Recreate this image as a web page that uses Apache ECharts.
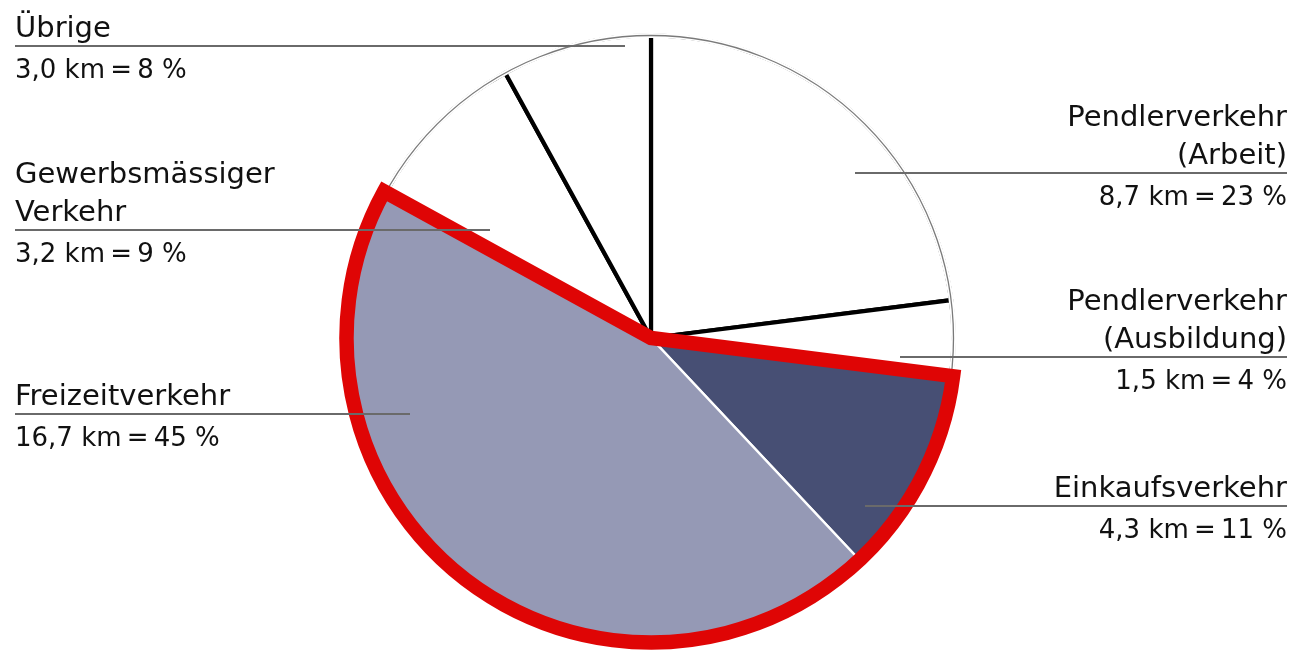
<!DOCTYPE html>
<html>
<head>
<meta charset="utf-8">
<script src="https://cdn.jsdelivr.net/npm/echarts@6/dist/echarts.min.js"></script>
<style>
html,body{margin:0;padding:0;background:#ffffff;}
#chart{width:1297px;height:653px;}
</style>
</head>
<body>
<div id="chart"></div>
<script>
// ---- data ----
const categories = ['Pendlerverkehr\n(Arbeit)', 'Pendlerverkehr\n(Ausbildung)', 'Einkaufsverkehr', 'Freizeitverkehr', 'Gewerbsmässiger\nVerkehr', 'Übrige'];
const distanceKm = [8.7, 1.5, 4.3, 16.7, 3.2, 3.0];
const sharePercent = [23, 4, 11, 45, 9, 8];
const highlighted = [false, false, true, true, false, false];

// ---- styles ----
const sliceColors = ['#ffffff', '#ffffff', '#474f74', '#9599b5', '#ffffff', '#ffffff'];
const RED = '#df0505';
const TEXT = '#111111';
const FONT = 'DejaVu Sans';

// ---- layout (label placement) ----
const LAYOUT = {
  center: [651, 338],
  radius: 302.5,
  edge: 15,
  lineY: [173, 357, 506, 414, 230, 46],
  lineStartX: [855, 900, 865, 410, 490, 625]
};

const total = sharePercent.reduce((a, b) => a + b, 0);
let acc = 0;
const sides = sharePercent.map(v => {
  const mid = (acc + v / 2) / total;
  acc += v;
  return mid < 0.5 ? 'right' : 'left';
});

// contiguous highlighted group
let before = 0, group = 0, after = 0, seen = false;
sharePercent.forEach((v, i) => {
  if (highlighted[i]) { group += v; seen = true; }
  else if (!seen) before += v;
  else after += v;
});

const fmtKm = v => v.toFixed(1).replace('.', ',');

const chart = echarts.init(document.getElementById('chart'), null, {renderer: 'canvas'});

const R = LAYOUT.radius;
const common = {
  type: 'pie',
  center: LAYOUT.center,
  startAngle: 90,
  clockwise: true,
  silent: true,
  avoidLabelOverlap: false,
  emphasis: {disabled: true},
  label: {show: false},
  labelLine: {show: false}
};

const option = {
  animation: false,
  backgroundColor: '#ffffff',
  series: [
    // base slices
    Object.assign({}, common, {
      z: 2,
      radius: [0, R],
      data: sharePercent.map((v, i) => ({
        value: v,
        name: categories[i],
        itemStyle: highlighted[i]
          ? {color: sliceColors[i], borderColor: '#ffffff', borderWidth: 2.5}
          : {color: sliceColors[i], borderColor: '#000000', borderWidth: 4.2}
      }))
    }),
    // white ring hiding the black outer arcs
    Object.assign({}, common, {
      z: 3,
      radius: [R - 2.4, R + 2.6],
      data: [{value: 1, itemStyle: {color: '#ffffff', borderWidth: 0}}]
    }),
    // thin grey outer circle
    Object.assign({}, common, {
      z: 4,
      radius: [0, R],
      data: [{value: 1, itemStyle: {color: 'rgba(0,0,0,0)', borderColor: '#7a7a7a', borderWidth: 1.3}}]
    }),
    // red outline around highlighted group
    Object.assign({}, common, {
      z: 5,
      radius: [0, R + 2],
      data: [
        {value: before, itemStyle: {color: 'rgba(0,0,0,0)', borderWidth: 0}},
        {value: group, itemStyle: {color: 'rgba(0,0,0,0)', borderColor: RED, borderWidth: 14.5, borderJoin: 'miter'}},
        {value: after, itemStyle: {color: 'rgba(0,0,0,0)', borderWidth: 0}}
      ]
    }),
    // label carrier (drawn on top)
    Object.assign({}, common, {
      z: 10,
      radius: [0, R],
      data: sharePercent.map((v, i) => ({value: v, name: categories[i], itemStyle: {color: 'rgba(0,0,0,0)', borderWidth: 0}})),
      label: {
        show: true,
        position: 'outside',
        color: TEXT,
        fontFamily: FONT,
        formatter: p => {
          const i = p.dataIndex;
          const s = sides[i] === 'right' ? 'R' : 'L';
          return '{n' + s + '|' + categories[i] + '}\n{v' + s + '|' + fmtKm(distanceKm[i]) + ' km\u2009=\u2009' + sharePercent[i] + ' %}';
        },
        rich: {
          nL: {fontFamily: FONT, fontSize: 29, lineHeight: 38, color: TEXT, align: 'left'},
          vL: {fontFamily: FONT, fontSize: 26, lineHeight: 46, color: TEXT, align: 'left'},
          nR: {fontFamily: FONT, fontSize: 29, lineHeight: 38, color: TEXT, align: 'right'},
          vR: {fontFamily: FONT, fontSize: 26, lineHeight: 46, color: TEXT, align: 'right'}
        }
      },
      labelLine: {show: true, length: 15, length2: 15, lineStyle: {color: '#6a6a6a', width: 1.8}},
      labelLayout: function (p) {
        const i = p.dataIndex;
        const right = sides[i] === 'right';
        const rows = categories[i].split('\n').length;
        const ly = LAYOUT.lineY[i];
        const xEdge = right ? chart.getWidth() - 10 : LAYOUT.edge;
        return {
          x: xEdge,
          y: ly - 36 - 38 * (rows - 1),
          align: right ? 'right' : 'left',
          verticalAlign: 'top',
          labelLinePoints: [[LAYOUT.lineStartX[i], ly], [LAYOUT.lineStartX[i], ly], [xEdge, ly]]
        };
      }
    })
  ]
};

chart.setOption(option);
</script>
</body>
</html>
